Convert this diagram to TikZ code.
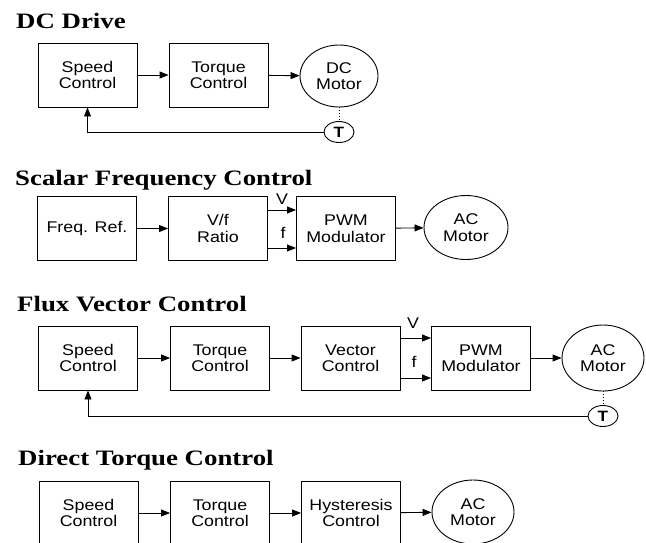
\documentclass[tikz,border=0pt]{standalone}
\usepackage{fontspec}
\usetikzlibrary{arrows.meta,shapes.geometric}
\newfontfamily\boxfont[FakeStretch=1.15]{Liberation Sans}
\newfontfamily\titlefont[FakeStretch=1.22]{Liberation Serif}
\begin{document}
\begin{tikzpicture}[x=1pt,y=-1pt,
  txt/.style={font=\boxfont\fontsize{15.5}{16.5}\selectfont},
  blk/.style={txt, draw, line width=0.9pt, rectangle, minimum width=99pt, minimum height=64pt, inner sep=0pt, align=center},
  mot/.style={txt, draw, line width=0.9pt, ellipse, minimum width=80pt, minimum height=64pt, inner sep=0pt, align=center},
  tach/.style={font=\boxfont\bfseries\fontsize{15}{16}\selectfont, draw, line width=0.9pt, ellipse, minimum width=30pt, minimum height=21pt, inner sep=0pt},
  ttl/.style={anchor=base west, inner sep=0pt, font=\titlefont\bfseries\fontsize{22}{24}\selectfont},
  lbl/.style={txt, inner sep=0pt},
  arr/.style={-{Triangle[length=9pt,width=7pt]}, line width=0.9pt},
  dot/.style={dotted, line width=0.9pt}
]
\useasboundingbox (0,0) rectangle (646,542);
\clip (0,0) rectangle (646,542);

% ---------- DC Drive ----------
\node[ttl] (t1) at (16,28) {DC Drive};
\node[blk] (s1) at (87.5,75) {Speed\\Control};
\node[blk] (q1) at (218.5,75) {Torque\\Control};
\node[mot, minimum width=78pt, minimum height=62pt] (m1) at (339,76) {DC\\Motor};
\node[tach] (T1) at (339,132) {T};
\draw[arr] (s1) -- (q1);
\draw[arr] (q1) -- (m1);
\draw[dot] (m1.south) -- (T1.north);
\draw[arr] (T1.west) -| (s1.south);

% ---------- Scalar Frequency Control ----------
\node[ttl] (t2) at (15,185) {Scalar Frequency Control};
\node[blk] (f2) at (87,228.5) {Freq. Ref.};
\node[blk] (r2) at (218,228.5) {V/f\\Ratio};
\node[blk] (p2) at (346,228.5) {PWM\\Modulator};
\node[mot, minimum width=84pt, minimum height=64pt] (m2) at (466,227.5) {AC\\Motor};
\draw[arr] (f2) -- (r2);
\draw[arr] ([yshift=18.5pt]r2.east) -- ([yshift=18.5pt]p2.west);
\draw[arr] ([yshift=-19.5pt]r2.east) -- ([yshift=-19.5pt]p2.west);
\node[lbl] (v2) at (282,199) {V};
\node[lbl] (ff2) at (283,233) {f};
\draw[arr] (p2) -- (m2);

% ---------- Flux Vector Control ----------
\node[ttl] (t3) at (17,311) {Flux Vector Control};
\node[blk] (s3) at (88,358) {Speed\\Control};
\node[blk] (q3) at (220,358) {Torque\\Control};
\node[blk] (c3) at (350.5,358) {Vector\\Control};
\node[blk] (p3) at (481,358) {PWM\\Modulator};
\node[mot, minimum width=82pt, minimum height=66pt] (m3) at (603,358) {AC\\Motor};
\node[tach] (T3) at (603,416) {T};
\draw[arr] (s3) -- (q3);
\draw[arr] (q3) -- (c3);
\draw[arr] ([yshift=20pt]c3.east) -- ([yshift=20pt]p3.west);
\draw[arr] ([yshift=-20pt]c3.east) -- ([yshift=-20pt]p3.west);
\node[lbl] (v3) at (413,323) {V};
\node[lbl] (ff3) at (414,362) {f};
\draw[arr] (p3) -- (m3);
\draw[dot] (m3.south) -- (T3.north);
\draw[arr] (T3.west) -| (s3.south);

% ---------- Direct Torque Control ----------
\node[ttl] (t4) at (18,465) {Direct Torque Control};
\node[blk] (s4) at (88.5,513) {Speed\\Control};
\node[blk] (q4) at (220,513) {Torque\\Control};
\node[blk] (h4) at (351,513) {Hysteresis\\Control};
\node[mot, minimum width=82pt, minimum height=64pt] (m4) at (473,512) {AC\\Motor};
\draw[arr] (s4) -- (q4);
\draw[arr] (q4) -- (h4);
\draw[arr] (h4) -- (m4);
\end{tikzpicture}
\end{document}
